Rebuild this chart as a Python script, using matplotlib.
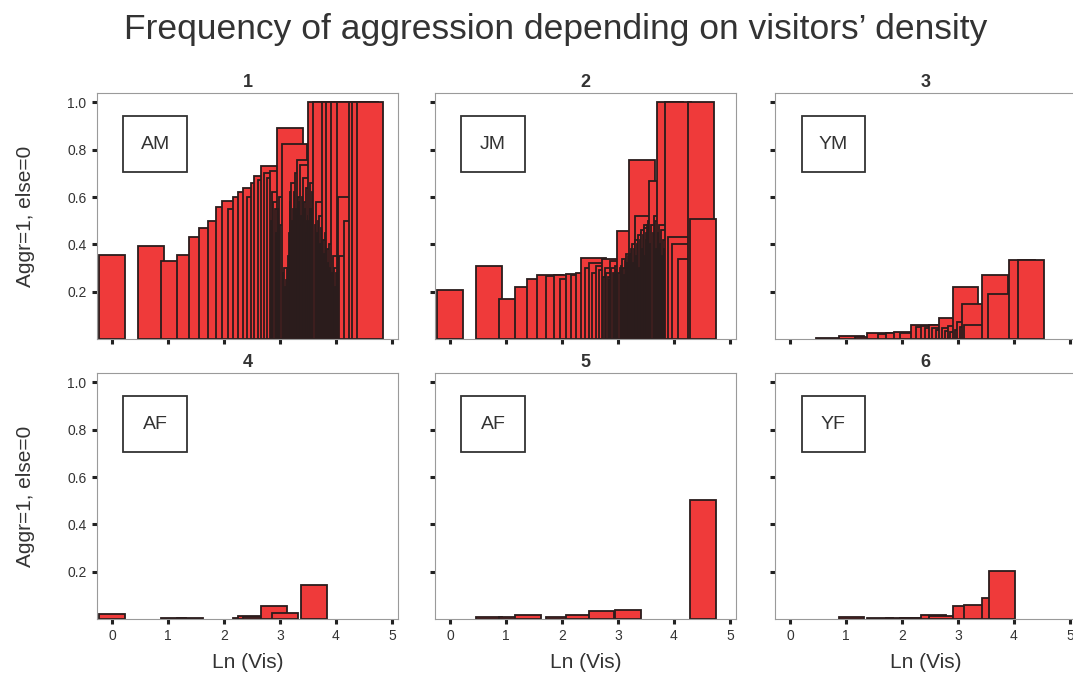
import numpy as np
import matplotlib
matplotlib.use("Agg")
import matplotlib.pyplot as plt
from matplotlib.patches import Rectangle
from matplotlib.ticker import FormatStrFormatter

plt.rcParams['font.family'] = ['Liberation Sans', 'DejaVu Sans']

title = "Frequency of aggression depending on visitors’ density"
panel_titles = ["1", "2", "3", "4", "5", "6"]
group_labels = ["AM", "JM", "YM", "AF", "AF", "YF"]
x_label = "Ln (Vis)"
y_label = "Aggr=1, else=0"
x_ticks = [0, 1, 2, 3, 4, 5]
y_ticks = [0.2, 0.4, 0.6, 0.8, 1.0]

# Mean visitor counts and share of observations with aggression, per group
vis_1 = [1, 2, 3, 4, 5, 6, 7, 8, 9, 10,
         11, 12, 13, 14, 15, 16, 17, 18, 19, 20,
         21, 21.5, 22, 22.5, 23, 23.5, 24, 24.5, 25, 25.5,
         26, 26.5, 27, 27.5, 28, 28.5, 29, 29.5, 30, 30.5,
         31, 31.5, 32, 32.5, 33, 33.5, 34, 34.5, 35, 35.5,
         36, 36.5, 37, 37.5, 38, 38.5, 39, 39.5, 40, 40.5,
         41, 41.5, 42, 42.5, 43, 43.5, 44, 45, 46, 47,
         48, 49, 50, 51, 52, 53, 54, 55, 56, 57,
         58, 59, 60, 61, 62, 63, 64, 65, 66, 67,
         68, 69, 70, 71, 73, 79, 87, 92, 100]
aggr_1 = [0.357, 0.393, 0.33, 0.357, 0.43, 0.47, 0.50, 0.556, 0.584, 0.55,
          0.60, 0.62, 0.64, 0.60, 0.66, 0.69, 0.67, 0.73, 0.70, 0.68,
          0.71, 0.50, 0.62, 0.58, 0.55, 0.45, 0.89, 0.55, 0.60, 0.48,
          0.826, 0.28, 0.30, 0.22, 0.25, 0.30, 0.35, 0.45, 0.62, 0.58,
          0.66, 0.50, 0.55, 0.62, 0.70, 0.55, 0.755, 0.52, 0.60, 0.58,
          0.736, 0.48, 0.52, 0.60, 0.68, 0.50, 0.58, 0.55, 0.64, 0.45,
          0.50, 0.52, 1.0, 0.50, 0.66, 0.55, 0.55, 0.62, 1.0, 0.48,
          0.58, 0.45, 0.50, 0.52, 0.40, 0.47, 1.0, 0.42, 0.36, 0.45,
          1.0, 0.38, 0.32, 0.40, 0.30, 1.0, 0.28, 0.35, 0.25, 0.30,
          0.22, 0.28, 1.0, 0.60, 0.35, 0.50, 1.0, 1.0, 1.0]

vis_2 = [1, 2, 3, 4, 5, 6, 7, 8, 9, 10,
         11, 12, 13, 14, 15, 16, 17, 18, 19, 19.5,
         20, 20.5, 21, 21.5, 22, 22.5, 23, 23.5, 24, 24.5,
         25, 25.5, 26, 26.5, 27, 27.5, 28, 28.5, 29, 29.5,
         30, 30.5, 31, 31.5, 32, 32.5, 33, 33.5, 34, 34.5,
         35, 35.5, 36, 36.5, 37, 37.5, 38, 38.5, 39, 39.5,
         40, 40.5, 41, 41.5, 42, 42.5, 43, 44, 45, 46,
         47, 48, 49, 50, 51, 52, 53, 54, 55, 56,
         57, 58, 59, 62, 66, 74, 89, 92]
aggr_2 = [0.206, 0.308, 0.169, 0.218, 0.254, 0.27, 0.265, 0.27, 0.255, 0.275,
          0.27, 0.28, 0.343, 0.30, 0.32, 0.28, 0.31, 0.29, 0.336, 0.26,
          0.30, 0.28, 0.26, 0.25, 0.33, 0.30, 0.28, 0.27, 0.31, 0.29,
          0.457, 0.28, 0.30, 0.31, 0.34, 0.30, 0.27, 0.33, 0.36, 0.32,
          0.30, 0.35, 0.755, 0.36, 0.38, 0.40, 0.32, 0.38, 0.52, 0.42,
          0.35, 0.40, 0.42, 0.44, 0.30, 0.42, 0.45, 0.46, 0.38, 0.44,
          0.48, 0.47, 0.35, 0.45, 0.42, 0.48, 0.50, 0.667, 0.40, 0.48,
          0.45, 0.52, 0.50, 0.38, 1.0, 0.45, 0.48, 0.40, 0.46, 0.35,
          0.42, 0.38, 1.0, 0.43, 0.40, 0.336, 1.0, 0.506]

vis_3 = [2, 3, 4, 5, 6, 7, 8, 9, 11, 12,
         13, 14, 15, 16, 17, 18, 19, 20, 21, 22,
         23, 24, 25, 26, 27, 28, 39, 43, 63, 74]
aggr_3 = [0.006, 0.012, 0.010, 0.026, 0.022, 0.026, 0.028, 0.024, 0.060, 0.050,
          0.056, 0.048, 0.058, 0.045, 0.040, 0.090, 0.045, 0.035, 0.055, 0.030,
          0.22, 0.04, 0.07, 0.05, 0.146, 0.06, 0.27, 0.19, 0.335, 0.335]

vis_4 = [1, 3, 4, 11, 12, 13, 18, 22, 37]
aggr_4 = [0.021, 0.006, 0.005, 0.005, 0.012, 0.008, 0.053, 0.024, 0.142]

vis_5 = [2, 3, 4, 7, 10, 15, 24, 92]
aggr_5 = [0.010, 0.008, 0.018, 0.008, 0.018, 0.032, 0.040, 0.505]

vis_6 = [3, 5, 7, 9, 11, 13, 15, 23, 28, 39, 44]
aggr_6 = [0.008, 0.006, 0.006, 0.006, 0.006, 0.017, 0.012, 0.053, 0.060, 0.088,
          0.203]

groups = [(vis_1, aggr_1), (vis_2, aggr_2), (vis_3, aggr_3),
          (vis_4, aggr_4), (vis_5, aggr_5), (vis_6, aggr_6)]

BAR_FACE = "#ef3a3a"
BAR_EDGE = "#2a1c1c"
TEXT = "#333333"

fig = plt.figure(figsize=(10.73, 6.8), dpi=100)

col_left = [0.0904, 0.4054, 0.7223]
row_bottom = [0.5015, 0.0897]
ax_w, ax_h = 0.2805, 0.3618

fig.text(0.518, 0.957, title, ha="center", va="center", fontsize=25.5,
         color=TEXT)

for i, (vis, aggr) in enumerate(groups):
    r, c = divmod(i, 3)
    ax = fig.add_axes([col_left[c], row_bottom[r], ax_w, ax_h])
    x = np.log(np.asarray(vis, dtype=float))
    ax.bar(x, aggr, width=0.46, color=BAR_FACE, edgecolor=BAR_EDGE,
           linewidth=1.3, align="center")
    ax.set_xlim(-0.27, 5.11)
    ax.set_ylim(0, 1.04)
    ax.set_xticks(x_ticks)
    ax.set_yticks(y_ticks)
    ax.yaxis.set_major_formatter(FormatStrFormatter("%.1f"))
    ax.tick_params(direction="out", length=3.5, width=2.2, color="#222222",
                   labelsize=10, labelcolor=TEXT, pad=4)
    if c != 0:
        ax.tick_params(labelleft=False)
    if r == 0:
        ax.tick_params(labelbottom=False)
    else:
        ax.set_xlabel(x_label, fontsize=15, color=TEXT, labelpad=7)
    for s in ax.spines.values():
        s.set_color("#9a9a9a")
        s.set_linewidth(0.8)
    ax.set_title(panel_titles[i], fontsize=13, fontweight="bold",
                 color=TEXT, pad=4)
    ax.add_patch(Rectangle((0.088, 0.68), 0.21, 0.225, transform=ax.transAxes,
                           facecolor="white", edgecolor=TEXT, linewidth=1.3,
                           zorder=5))
    ax.text(0.193, 0.7925, group_labels[i], transform=ax.transAxes,
            ha="center", va="center", fontsize=14, color=TEXT, zorder=6)
    if c == 0:
        fig.text(0.024, row_bottom[r] + ax_h / 2, y_label, rotation=90,
                 ha="center", va="center", fontsize=15, color=TEXT)

fig.savefig("out.png", dpi=100)
